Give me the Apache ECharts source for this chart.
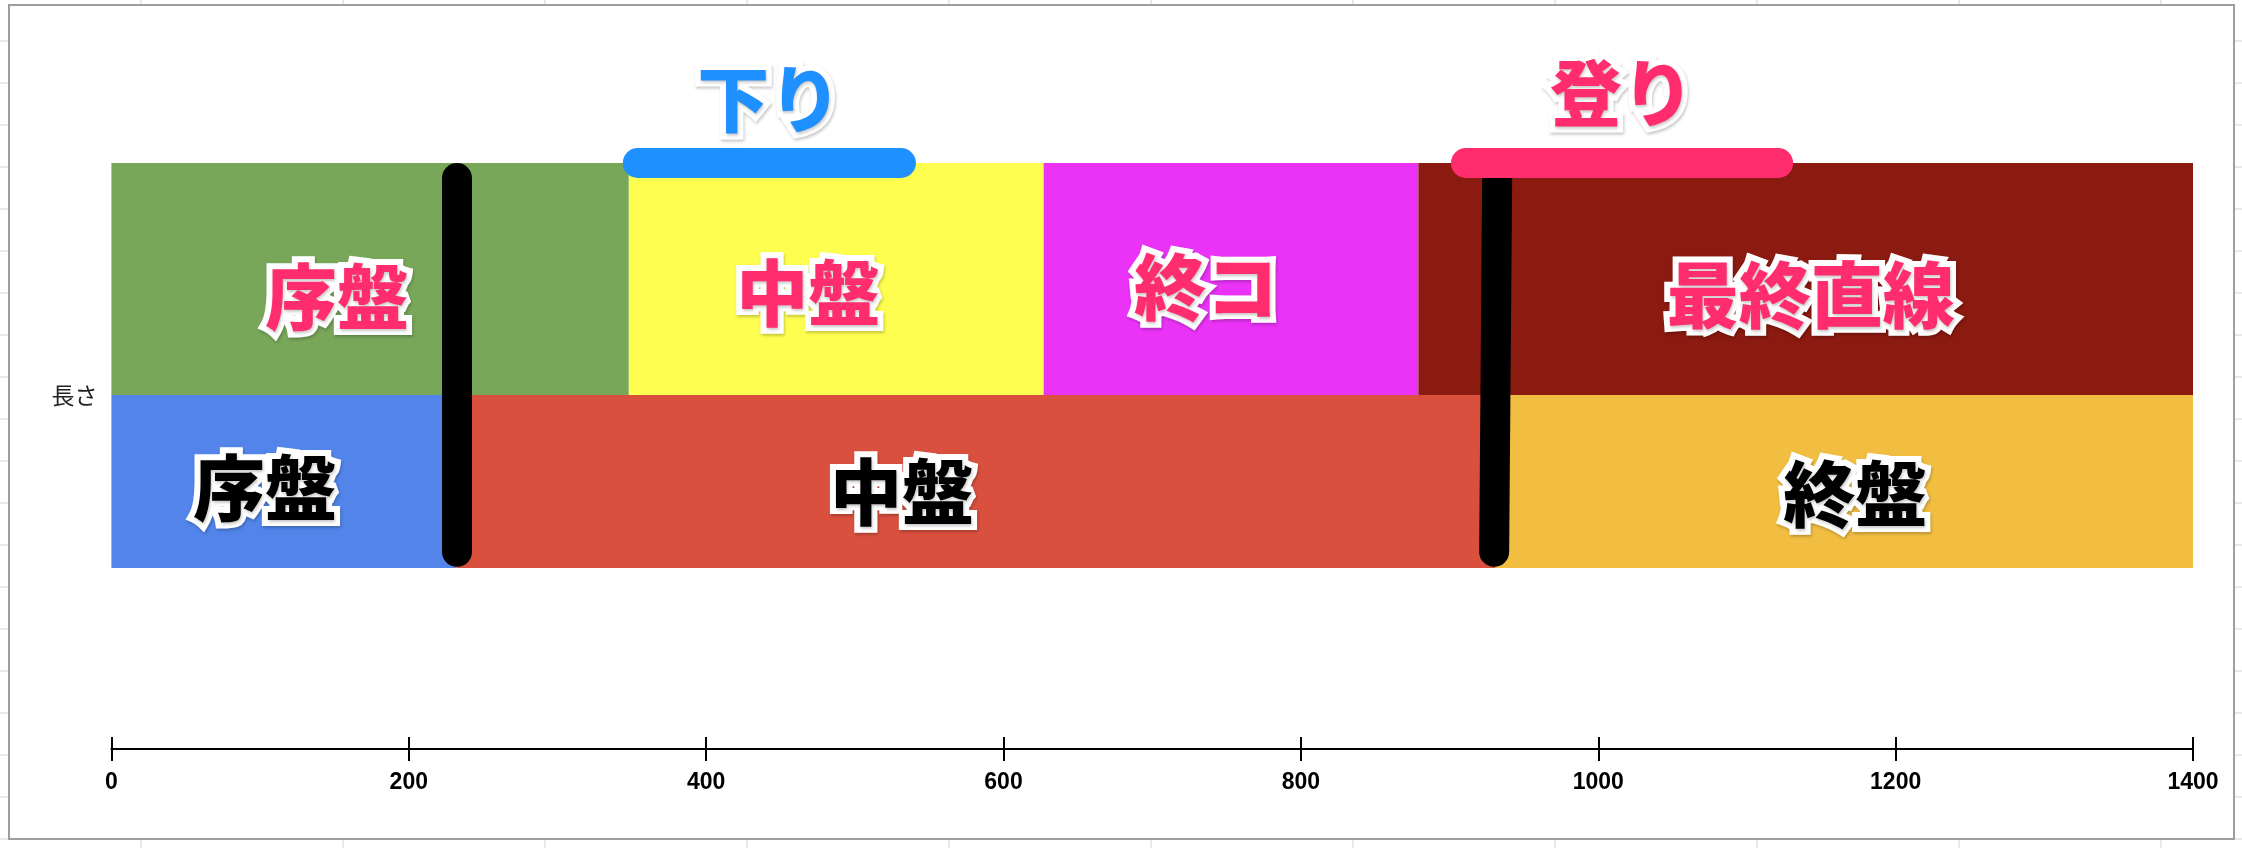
<!DOCTYPE html>
<html lang="ja">

<head>
    <meta charset="UTF-8">
    <title>コース区分</title>
    <script src="https://cdn.jsdelivr.net/npm/echarts@6/dist/echarts.min.js"></script>
    <style>
        html, body { margin: 0; padding: 0; background: #fff; }
        #chart { width: 2242px; height: 848px; }
    </style>
</head>

<body>
    <div id="chart"></div>

    <script>
        // データ
        const category = ["長さ"];
        const upperNames = ["序盤", "中盤", "終コ", "最終直線"];
        const upperValues = [348, 279, 252, 521];
        const lowerNames = ["序盤", "中盤", "終盤"];
        const lowerValues = [232, 699, 469];
        const dividerX = [[232, 232], [932, 930]];   // 区切り線 (上端, 下端)
        const slopeNames = ["下り", "登り"];
        const slopeFrom = [354, 911];
        const slopeTo = [531, 1121];
        const axisMin = 0, axisMax = 1400, axisStep = 200;

        // 見た目
        const upperColors = ["#78a75a", "#fefe50", "#ea33f7", "#8b1a10"];
        const lowerColors = ["#5284ea", "#d9503f", "#f1be42"];
        const upperShift = [[-33, 18], [-28, 14], [-25, 8], [5, 16]];
        const lowerShift = [[-19, 6], [-74, 10], [11, 12]];
        const slopeColors = ["#1e90ff", "#ff2d6e"];

        const L = 111.4, R = 49;
        const bigFont = {
            fontFamily: "Noto Sans CJK JP",
            fontSize: 72,
            fontWeight: 900,
            textBorderColor: "#fff",
            textBorderWidth: 12,
            textShadowColor: "rgba(0,0,0,0.22)",
            textShadowBlur: 3,
            textShadowOffsetX: 1,
            textShadowOffsetY: 2
        };

        const myChart = echarts.init(document.getElementById("chart"));

        function rowSeries(names, values, colors, shift, idx, textColor) {
            return names.map(function (n, i) {
                return {
                    name: n,
                    type: "bar",
                    stack: "row" + idx,
                    xAxisIndex: idx,
                    yAxisIndex: idx,
                    barWidth: "100%",
                    itemStyle: { color: colors[i] },
                    label: Object.assign({
                        show: true,
                        position: "inside",
                        formatter: n,
                        color: textColor
                    }, bigFont),
                    data: [{ value: values[i], label: { offset: shift[i] } }]
                };
            });
        }

        // 背景のセル罫線
        const bg = [];
        for (let x = 141; x < 2242; x += 202) {
            bg.push({ type: "line", z: -100, shape: { x1: x, y1: 0, x2: x, y2: 848 }, style: { stroke: "#e2e2e2", lineWidth: 1.5 } });
        }
        for (let y = 41; y < 848; y += 42) {
            bg.push({ type: "line", z: -100, shape: { x1: 0, y1: y, x2: 2242, y2: y }, style: { stroke: "#e2e2e2", lineWidth: 1.5 } });
        }
        bg.push({
            type: "rect", z: -90,
            shape: { x: 9, y: 5, width: 2225, height: 834 },
            style: { fill: "#fff", stroke: "#9e9e9e", lineWidth: 2 }
        });

        const hiddenX = function (g) {
            return { gridIndex: g, type: "value", min: axisMin, max: axisMax, show: false };
        };

        const option = {
            animation: false,
            graphic: bg,
            grid: [
                { left: L, right: R, top: 163, height: 232 },
                { left: L, right: R, top: 395, height: 173 },
                { left: L, right: R, top: 600, bottom: 99 },
                { left: L, right: R, top: 163, height: 405 }
            ],
            xAxis: [
                hiddenX(0),
                hiddenX(1),
                {
                    gridIndex: 2, type: "value", min: axisMin, max: axisMax, interval: axisStep,
                    axisLine: { show: true, lineStyle: { color: "#000", width: 2 } },
                    axisTick: { show: true, length: 12, lineStyle: { color: "#000", width: 2 } },
                    splitLine: { show: false },
                    axisLabel: {
                        margin: 22, color: "#000", fontSize: 23, fontWeight: "bold",
                        fontFamily: "Liberation Sans",
                        formatter: function (v) { return String(v); }
                    }
                },
                hiddenX(3),
                {
                    gridIndex: 2, type: "value", min: axisMin, max: axisMax, interval: axisStep,
                    position: "bottom",
                    axisLine: { show: false },
                    axisTick: { show: true, inside: true, length: 12, lineStyle: { color: "#000", width: 2 } },
                    axisLabel: { show: false },
                    splitLine: { show: false }
                }
            ],
            yAxis: [
                { gridIndex: 0, type: "category", data: category, show: false },
                {
                    gridIndex: 1, type: "category", data: category,
                    axisLine: { show: false }, axisTick: { show: false }, axisLabel: { show: false },
                    name: category[0], nameLocation: "end", nameGap: 0,
                    nameTextStyle: {
                        align: "right", verticalAlign: "middle", padding: [0, 14, 0, 0],
                        fontSize: 23, color: "#222", fontFamily: "Noto Sans CJK JP"
                    }
                },
                { gridIndex: 2, type: "value", show: false },
                { gridIndex: 3, type: "value", min: 0, max: 1, show: false }
            ],
            series: rowSeries(upperNames, upperValues, upperColors, upperShift, 0, "#ff2d6e")
                .concat(rowSeries(lowerNames, lowerValues, lowerColors, lowerShift, 1, "#000"))
                .concat([
                    {
                        name: "区切り",
                        type: "lines",
                        coordinateSystem: "cartesian2d",
                        xAxisIndex: 3,
                        yAxisIndex: 3,
                        clip: false,
                        z: 5,
                        lineStyle: { color: "#000", width: 30, cap: "round", opacity: 1 },
                        data: dividerX.map(function (d) {
                            return { coords: [[d[0], 0.963], [d[1], 0.04]] };
                        })
                    },
                    {
                        name: "坂",
                        type: "lines",
                        coordinateSystem: "cartesian2d",
                        xAxisIndex: 3,
                        yAxisIndex: 3,
                        clip: false,
                        z: 6,
                        lineStyle: { width: 30, cap: "round", opacity: 1 },
                        label: Object.assign({
                            show: true,
                            position: "middle",
                            formatter: "{b}"
                        }, bigFont),
                        data: slopeNames.map(function (n, i) {
                            return {
                                name: n,
                                coords: [[slopeFrom[i], 1], [slopeTo[i], 1]],
                                lineStyle: { color: slopeColors[i] },
                                label: { color: slopeColors[i], distance: i === 0 ? 28 : 34 }
                            };
                        })
                    }
                ])
        };

        myChart.setOption(option);
    </script>
</body>

</html>
